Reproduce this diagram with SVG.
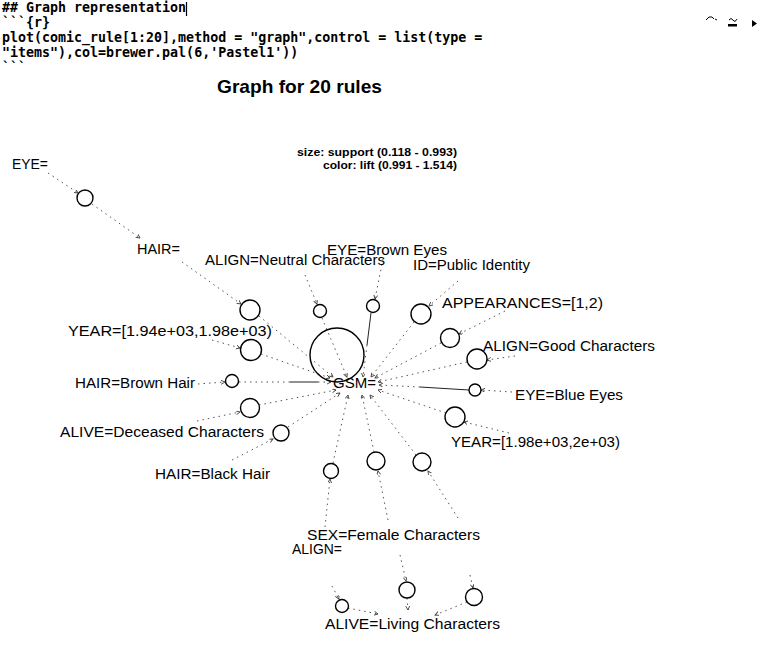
<svg xmlns="http://www.w3.org/2000/svg" width="763" height="649" viewBox="0 0 763 649">
<style>
.code{font-family:"DejaVu Sans Mono","Liberation Mono",monospace;font-size:13.3px;font-weight:bold;fill:#000}
.lbl{font-family:"Liberation Sans",Arial,sans-serif;font-size:14px;fill:#000}
.leg{font-family:"Liberation Sans",Arial,sans-serif;font-size:11px;font-weight:bold;fill:#000}
.title{font-family:"Liberation Sans",Arial,sans-serif;font-size:19px;font-weight:bold;fill:#000}
.e{stroke:#555;stroke-width:1;stroke-dasharray:1.5 4;fill:none}
.s{stroke:#222;stroke-width:1;fill:none}
.n{fill:#fff;stroke:#000;stroke-width:1.4}
</style>
<defs>
<marker id="a" markerUnits="userSpaceOnUse" markerWidth="5" markerHeight="5" refX="4" refY="2" orient="auto">
<path d="M0,0 L4,2 L0,4" fill="none" stroke="#444" stroke-width="0.9"/>
</marker>
</defs>
<rect width="763" height="649" fill="#fff"/>

<g id="code">
<text class="code" x="2" y="12">## Graph representation</text>
<line x1="186.5" y1="2" x2="186.5" y2="16" stroke="#000" stroke-width="1.2"/>
<text class="code" x="2" y="27">```{r}</text>
<text class="code" x="2" y="42">plot(comic_rule[1:20],method = "graph",control = list(type =</text>
<text class="code" x="2" y="57">"items"),col=brewer.pal(6,'Pastel1'))</text>
<text class="code" x="2" y="72">```</text>
</g>

<g id="toolbar">
<path d="M706,20 L709,17 L712,17 L714,19 M715,19 L717,20" stroke="#000" stroke-width="1" fill="none"/>
<path d="M729,20 Q731,17 733,20 T737,19" stroke="#000" stroke-width="1" fill="none"/>
<rect x="728" y="24" width="9" height="2.5" fill="#000"/>
<polygon points="752,20 757,23.5 752,27" fill="#000"/>
</g>

<text class="title" x="217" y="93" textLength="165" lengthAdjust="spacingAndGlyphs">Graph for 20 rules</text>
<g id="legend">
<text class="leg" x="297" y="156" textLength="160" lengthAdjust="spacingAndGlyphs">size: support (0.118 - 0.993)</text>
<text class="leg" x="323" y="169" textLength="134" lengthAdjust="spacingAndGlyphs">color: lift (0.991 - 1.514)</text>
</g>

<g id="connectors">
<line class="e" x1="48" y1="173" x2="78" y2="193" marker-end="url(#a)"/>
<line class="e" x1="92" y1="204" x2="140" y2="238" marker-end="url(#a)"/>
<line class="e" x1="182" y1="262" x2="241" y2="304" marker-end="url(#a)"/>
<line class="e" x1="259" y1="316" x2="333" y2="377" marker-end="url(#a)"/>
<line class="e" x1="212" y1="340" x2="240" y2="348" marker-end="url(#a)"/>
<line class="e" x1="261" y1="354" x2="330" y2="378" marker-end="url(#a)"/>
<line class="e" x1="198" y1="384" x2="225" y2="382" marker-end="url(#a)"/>
<line class="e" x1="239" y1="382" x2="290" y2="382"/>
<line class="s" x1="290" y1="382" x2="318" y2="382"/>
<line class="e" x1="318" y1="382" x2="331" y2="382" marker-end="url(#a)"/>
<line class="e" x1="197" y1="421" x2="240" y2="412" marker-end="url(#a)"/>
<line class="e" x1="259" y1="405" x2="336" y2="390" marker-end="url(#a)"/>
<line class="e" x1="232" y1="460" x2="273" y2="439" marker-end="url(#a)"/>
<line class="e" x1="288" y1="427" x2="340" y2="393" marker-end="url(#a)"/>
<line class="e" x1="325" y1="527" x2="330" y2="479" marker-end="url(#a)"/>
<line class="e" x1="333" y1="463" x2="348" y2="395" marker-end="url(#a)"/>
<line class="e" x1="388" y1="520" x2="378" y2="471" marker-end="url(#a)"/>
<line class="e" x1="374" y1="452" x2="362" y2="395" marker-end="url(#a)"/>
<line class="e" x1="458" y1="518" x2="428" y2="471" marker-end="url(#a)"/>
<line class="e" x1="416" y1="455" x2="370" y2="395" marker-end="url(#a)"/>
<line class="e" x1="400" y1="555" x2="406" y2="581" marker-end="url(#a)"/>
<line class="e" x1="407" y1="598" x2="408" y2="610" marker-end="url(#a)"/>
<line class="e" x1="332" y1="586" x2="339" y2="599" marker-end="url(#a)"/>
<line class="e" x1="348" y1="608" x2="378" y2="614" marker-end="url(#a)"/>
<line class="e" x1="470" y1="575" x2="473" y2="588" marker-end="url(#a)"/>
<line class="e" x1="467" y1="602" x2="435" y2="615" marker-end="url(#a)"/>
<line class="e" x1="305" y1="275" x2="317" y2="304" marker-end="url(#a)"/>
<line class="e" x1="322" y1="318" x2="347" y2="377" marker-end="url(#a)"/>
<line class="e" x1="383" y1="259" x2="375" y2="299" marker-end="url(#a)"/>
<line class="s" x1="371" y1="313" x2="367" y2="345"/>
<line class="e" x1="367" y1="345" x2="363" y2="377" marker-end="url(#a)"/>
<line class="e" x1="458" y1="281" x2="429" y2="306" marker-end="url(#a)"/>
<line class="e" x1="414" y1="322" x2="371" y2="377" marker-end="url(#a)"/>
<line class="e" x1="505" y1="311" x2="459" y2="334" marker-end="url(#a)"/>
<line class="e" x1="441" y1="343" x2="375" y2="378" marker-end="url(#a)"/>
<line class="e" x1="515" y1="356" x2="487" y2="360" marker-end="url(#a)"/>
<line class="e" x1="467" y1="362" x2="378" y2="382" marker-end="url(#a)"/>
<line class="e" x1="512" y1="392" x2="481" y2="390" marker-end="url(#a)"/>
<line class="s" x1="469" y1="390" x2="420" y2="387"/>
<line class="e" x1="420" y1="387" x2="379" y2="385" marker-end="url(#a)"/>
<line class="e" x1="509" y1="433" x2="464" y2="422" marker-end="url(#a)"/>
<line class="e" x1="446" y1="413" x2="378" y2="390" marker-end="url(#a)"/>
</g>

<g id="rules">
<g id="r1"><circle class="n" cx="85" cy="198" r="8"/></g>
<g id="r2"><circle class="n" cx="250" cy="310" r="10"/></g>
<g id="r3"><circle class="n" cx="320" cy="311" r="6.5"/></g>
<g id="r4"><circle class="n" cx="373" cy="306" r="6.5"/></g>
<g id="r5"><circle class="n" cx="421" cy="314" r="10"/></g>
<g id="r6"><circle class="n" cx="450" cy="338" r="9.5"/></g>
<g id="r7"><circle class="n" cx="477" cy="359" r="10"/></g>
<g id="r8"><circle class="n" cx="475" cy="390" r="6"/></g>
<g id="r9"><circle class="n" cx="455" cy="417" r="10"/></g>
<g id="r10"><circle class="n" cx="422" cy="462" r="9"/></g>
<g id="r11"><circle class="n" cx="376" cy="461" r="9"/></g>
<g id="r12"><circle class="n" cx="331" cy="471" r="7.5"/></g>
<g id="r13"><circle class="n" cx="281" cy="433" r="8"/></g>
<g id="r14"><circle class="n" cx="250" cy="408" r="9.5"/></g>
<g id="r15"><circle class="n" cx="232" cy="381" r="6.5"/></g>
<g id="r16"><circle class="n" cx="251" cy="350" r="10.5"/></g>
<g id="r17"><circle cx="337" cy="355" r="27" fill="none" stroke="#000" stroke-width="1.4"/></g>
<g id="r18"><circle class="n" cx="407" cy="590" r="8"/></g>
<g id="r19"><circle class="n" cx="342" cy="606" r="6.5"/></g>
<g id="r20"><circle class="n" cx="474" cy="597" r="8.5"/></g>
</g>

<g id="items">
<g id="i-eye"><text class="lbl" x="12" y="169" textLength="36" lengthAdjust="spacingAndGlyphs">EYE=</text></g>
<g id="i-hair"><text class="lbl" x="137" y="254" textLength="43" lengthAdjust="spacingAndGlyphs">HAIR=</text></g>
<g id="i-align-neutral"><text class="lbl" x="205" y="265" textLength="180" lengthAdjust="spacingAndGlyphs">ALIGN=Neutral Characters</text></g>
<g id="i-eye-brown"><text class="lbl" x="327" y="255" textLength="120" lengthAdjust="spacingAndGlyphs">EYE=Brown Eyes</text></g>
<g id="i-id-public"><text class="lbl" x="413" y="270" textLength="117" lengthAdjust="spacingAndGlyphs">ID=Public Identity</text></g>
<g id="i-appearances"><text class="lbl" x="442" y="308" textLength="161" lengthAdjust="spacingAndGlyphs">APPEARANCES=[1,2)</text></g>
<g id="i-year1"><text class="lbl" x="68" y="336" textLength="204" lengthAdjust="spacingAndGlyphs">YEAR=[1.94e+03,1.98e+03)</text></g>
<g id="i-align-good"><text class="lbl" x="483" y="351" textLength="172" lengthAdjust="spacingAndGlyphs">ALIGN=Good Characters</text></g>
<g id="i-hair-brown"><text class="lbl" x="75" y="388" textLength="120" lengthAdjust="spacingAndGlyphs">HAIR=Brown Hair</text></g>
<g id="i-gsm"><text class="lbl" x="333" y="388" textLength="43" lengthAdjust="spacingAndGlyphs">GSM=</text></g>
<g id="i-eye-blue"><text class="lbl" x="515" y="400" textLength="108" lengthAdjust="spacingAndGlyphs">EYE=Blue Eyes</text></g>
<g id="i-alive-deceased"><text class="lbl" x="60" y="437" textLength="204" lengthAdjust="spacingAndGlyphs">ALIVE=Deceased Characters</text></g>
<g id="i-year2"><text class="lbl" x="451" y="447" textLength="169" lengthAdjust="spacingAndGlyphs">YEAR=[1.98e+03,2e+03)</text></g>
<g id="i-hair-black"><text class="lbl" x="155" y="479" textLength="115" lengthAdjust="spacingAndGlyphs">HAIR=Black Hair</text></g>
<g id="i-sex-female"><text class="lbl" x="307" y="540" textLength="173" lengthAdjust="spacingAndGlyphs">SEX=Female Characters</text></g>
<g id="i-align"><text class="lbl" x="292" y="554" textLength="50" lengthAdjust="spacingAndGlyphs">ALIGN=</text></g>
<g id="i-alive-living"><text class="lbl" x="325" y="629" textLength="175" lengthAdjust="spacingAndGlyphs">ALIVE=Living Characters</text></g>
</g>
</svg>
